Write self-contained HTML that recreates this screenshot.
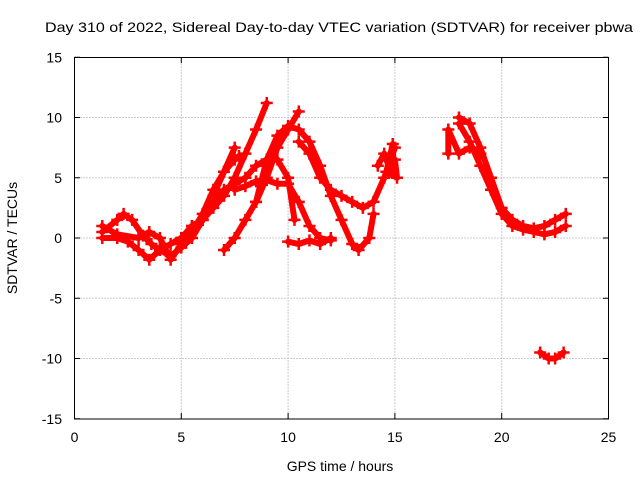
<!DOCTYPE html>
<html><head><meta charset="utf-8"><style>
body{margin:0;background:#fff}
svg{font-family:"Liberation Sans",sans-serif;font-size:14px}
</style></head><body>
<svg id="chart" width="640" height="480">
<text x="45" y="32" textLength="588" lengthAdjust="spacingAndGlyphs">Day 310 of 2022, Sidereal Day-to-day VTEC variation (SDTVAR) for receiver pbwa</text>
<text x="340" y="471" text-anchor="middle">GPS time / hours</text>
<text transform="translate(17,238) rotate(-90)" text-anchor="middle">SDTVAR / TECUs</text>
<g id="grid"></g><g id="ticks"></g><g id="marks"></g>
<rect x="74.5" y="57.5" width="534" height="361.5" fill="none" stroke="#000"/>
</svg>
<script>
const xTicks=[0,5,10,15,20,25];
const yTicks=[-15,-10,-5,0,5,10,15];
const trackA=[[1.3,0.5],[2,1.5],[2.3,2],[2.7,1.5],[3.2,0.2],[3.6,-0.5],[4,-1],[4.5,-1.5],[5,-0.8],[5.5,0],[6,1.5],[6.5,3.5],[7,5.5],[7.5,6.5],[7.7,6.8]];
const trackB=[[1.3,0],[2,0],[2.5,-0.3],[3,-1],[3.5,-1.8],[4,-1],[4.5,-0.5],[5,0],[5.5,0.5],[6,2],[6.5,4],[7,5.5],[7.5,7.5]];
const trackC=[[1.3,1],[2,0.3],[3,0],[3.5,0.5],[4,0],[4.5,-1.8],[5,-0.5],[5.5,1],[6,1.5],[6.5,3],[7,4],[7.5,4.5],[8,5],[8.5,6],[9,6.5],[9.5,6.5],[10,5],[10.3,1.5]];
const trackE=[[5,0],[5.5,1],[6,1.5],[6.5,2.5],[7,3.5],[7.5,5],[8,7],[8.5,9],[9,11.2]];
const trackF=[[7,-1],[7.5,0],[8,1.5],[8.5,3],[9,5],[9.5,7.5],[10,9],[10.5,10.5]];
const trackG=[[8.5,3],[9,6.5],[9.5,8.5],[10,9.3],[10.5,9],[11,8],[11.5,6],[12,3.5],[12.5,1.5],[13,-0.5],[13.3,-1],[13.8,0],[14,2]];
const trackH=[[7.5,4],[8,4.3],[8.5,4.7],[9,4.8],[9.5,4.5],[10,4.5],[10.5,3],[11,1],[11.5,0],[12,-0.2]];
const trackI=[[10,-0.3],[10.5,-0.5],[11,-0.2],[11.5,-0.5],[12,0]];
const trackJ=[[10.5,8],[11,7],[11.5,5],[12,4],[12.5,3.5],[13,3],[13.5,2.5],[14,3],[14.5,5],[15,7.5]];
const trackK=[[14.2,6],[14.5,7],[14.8,5.5],[15,6.5],[15.1,5],[14.6,5.5],[14.9,7.8]];
const trackL=[[18,10],[18.5,9.5],[19,7.5],[19.5,5],[20,2.5],[20.5,1.5],[21,1],[21.5,0.8],[22,1],[22.5,1.5],[23,2]];
const trackM=[[18,9.5],[18.5,8],[19,6],[19.5,4],[20,2],[20.5,1],[21,0.7],[21.5,0.5],[22,0.3],[22.5,0.5],[23,1]];
const trackN=[[17.5,7],[17.5,9],[18,7],[18.5,7.5],[19,7]];
const trackO=[[21.8,-9.5],[22.2,-10],[22.5,-10],[22.9,-9.5]];
const tracks=[trackA,trackB,trackC,trackE,trackF,trackG,trackH,trackI,trackJ,trackK,trackL,trackM,trackN,trackO];
const X=v=>74.5+v*21.36, Y=v=>238-v*12.05;
const NS="http://www.w3.org/2000/svg";
const grid=document.getElementById('grid'),ticks=document.getElementById('ticks'),marks=document.getElementById('marks');
function mk(tag,attrs,parent){const e=document.createElementNS(NS,tag);for(const k in attrs)e.setAttribute(k,attrs[k]);parent.appendChild(e);return e;}
xTicks.forEach(t=>{
 if(t>0&&t<25){const l=mk('line',{x1:X(t),x2:X(t),y1:57.5,y2:419,stroke:'#999','stroke-dasharray':'1,2'},grid);
 
 }
 const tx=mk('text',{x:X(t),y:442,'text-anchor':'middle'},ticks);tx.textContent=t;
 
 
 mk('line',{x1:X(t),x2:X(t),y1:419,y2:413,stroke:'#000'},ticks);mk('line',{x1:X(t),x2:X(t),y1:57.5,y2:63,stroke:'#000'},ticks);
});
yTicks.forEach(t=>{
 if(t>-15&&t<15){const l=mk('line',{x1:74.5,x2:608.5,y1:Y(t),y2:Y(t),stroke:'#999','stroke-dasharray':'1,2'},grid);
 
 }
 const tx=mk('text',{x:62,y:Y(t)+5,'text-anchor':'end'},ticks);tx.textContent=t;
 
 
 mk('line',{x1:74.5,x2:80,y1:Y(t),y2:Y(t),stroke:'#000'},ticks);mk('line',{x1:603,x2:608.5,y1:Y(t),y2:Y(t),stroke:'#000'},ticks);
});
tracks.forEach(tr=>{
 const p=mk('polyline',{points:tr.map(d=>X(d[0])+','+Y(d[1])).join(' '),fill:'none',stroke:'#f00','stroke-width':6,'stroke-linejoin':'round','stroke-linecap':'round'},marks);
 
 
 tr.forEach(d=>{
  const m=mk('path',{d:`M${X(d[0])-6},${Y(d[1])}h12M${X(d[0])},${Y(d[1])-6}v12`,stroke:'#f00','stroke-width':2.5},marks);
  
  
 });
});
</script>
</body></html>
